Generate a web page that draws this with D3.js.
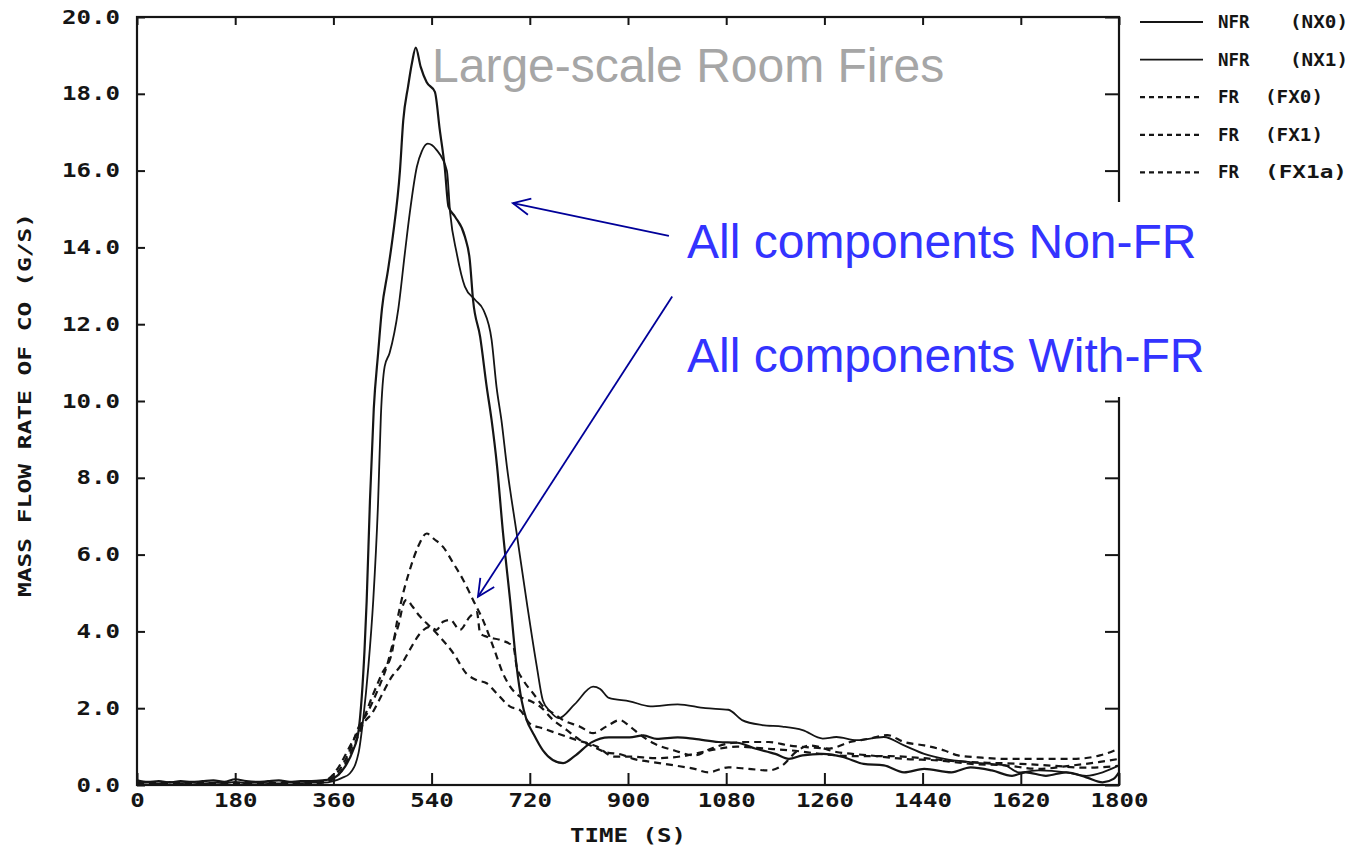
<!DOCTYPE html>
<html>
<head>
<meta charset="utf-8">
<script src="https://cdn.jsdelivr.net/npm/d3@7"></script>
<style>
  body { margin: 0; background: #fff; }
  svg { display: block; }
</style>
</head>
<body>
<script>
// ---- data (time in s, mass flow rate of CO in g/s) ----
const xTicks = [0, 180, 360, 540, 720, 900, 1080, 1260, 1440, 1620, 1800];
const yTicks = [0, 2, 4, 6, 8, 10, 12, 14, 16, 18, 20];

const seriesGroup = ["NFR", "NFR", "FR", "FR", "FR"];
const seriesCode = ["(NX0)", "(NX1)", "(FX0)", "(FX1)", "(FX1a)"];

const nx0 = [[0,0.12],[20,0.08],[40,0.1],[60,0.06],[80,0.1],[100,0.08],[120,0.1],[140,0.12],[160,0.08],[180,0.15],[200,0.1],[220,0.08],[240,0.1],[260,0.12],[280,0.08],[300,0.1],[320,0.1],[340,0.12],[355,0.15],[368,0.25],[381,0.47],[396,0.9],[406,1.4],[412,2.3],[417,3.5],[421,4.8],[427,7.4],[434,9.8],[442,11.25],[449,12.4],[460,13.4],[469,14.3],[482,16.0],[488,17.3],[497,18.2],[504,18.8],[511,19.2],[520,18.7],[531,18.3],[546,18.05],[555,17.06],[564,16.1],[571,15.06],[583,14.8],[601,14.28],[610,13.67],[616,12.63],[629,11.67],[641,10.37],[650,9.5],[660,8.3],[671,6.55],[684,4.8],[696,3.07],[705,2.2],[714,1.7],[726,1.35],[744,0.9],[762,0.65],[781,0.57],[802,0.75],[833,1.11],[865,1.24],[903,1.24],[928,1.29],[953,1.2],[991,1.24],[1022,1.2],[1066,1.12],[1100,1.1],[1133,0.95],[1170,0.81],[1195,0.68],[1220,0.77],[1257,0.81],[1294,0.73],[1332,0.55],[1369,0.51],[1406,0.33],[1443,0.42],[1493,0.33],[1528,0.46],[1567,0.38],[1604,0.24],[1629,0.33],[1666,0.24],[1703,0.33],[1740,0.2],[1770,0.07],[1790,0.16],[1800,0.33]];

const nx1 = [[0,0.05],[20,0.06],[40,0.04],[60,0.08],[80,0.05],[100,0.06],[120,0.04],[140,0.06],[160,0.05],[180,0.08],[200,0.05],[220,0.06],[240,0.05],[260,0.04],[280,0.06],[300,0.05],[320,0.06],[340,0.06],[360,0.1],[375,0.18],[390,0.3],[406,0.83],[415,1.77],[424,3.07],[433,4.8],[442,7.4],[447,9.6],[454,10.9],[463,11.25],[479,12.4],[491,13.85],[500,14.9],[513,16.1],[522,16.5],[533,16.7],[549,16.54],[568,16.0],[574,14.9],[586,13.85],[601,12.98],[620,12.63],[635,12.37],[650,11.59],[659,10.37],[668,9.5],[678,8.3],[696,6.55],[714,4.8],[733,3.07],[744,2.2],[757,1.92],[773,1.74],[802,2.1],[836,2.56],[849,2.5],[865,2.27],[903,2.18],[941,2.05],[991,2.1],[1042,2.0],[1084,1.96],[1109,1.69],[1146,1.56],[1183,1.52],[1220,1.43],[1257,1.21],[1282,1.25],[1319,1.17],[1369,1.25],[1406,1.03],[1443,0.81],[1480,0.68],[1529,0.59],[1591,0.51],[1616,0.33],[1653,0.38],[1703,0.33],[1740,0.24],[1770,0.33],[1800,0.51]];

const fx0 = [[0,0.04],[30,0.06],[60,0.03],[90,0.05],[120,0.04],[150,0.06],[180,0.04],[210,0.05],[240,0.06],[270,0.04],[300,0.05],[330,0.06],[350,0.15],[366,0.39],[390,1.0],[412,1.6],[431,2.3],[449,2.9],[467,3.43],[476,4.21],[488,5.0],[500,5.6],[515,6.2],[531,6.55],[545,6.4],[561,6.2],[580,5.77],[598,5.34],[616,4.82],[634,4.3],[653,3.6],[671,2.9],[684,2.56],[702,2.3],[724,2.17],[739,2.04],[763,1.69],[788,1.43],[812,1.17],[836,1.0],[860,0.85],[886,0.8],[910,0.68],[948,0.59],[985,0.51],[1022,0.42],[1047,0.33],[1084,0.46],[1121,0.42],[1158,0.38],[1183,0.51],[1208,0.86],[1233,1.03],[1282,0.86],[1344,0.77],[1406,0.68],[1468,0.64],[1529,0.55],[1591,0.51],[1653,0.42],[1715,0.51],[1765,0.6],[1800,0.68]];

const fx1 = [[0,0.05],[30,0.03],[60,0.05],[90,0.06],[120,0.04],[150,0.05],[180,0.03],[210,0.05],[240,0.04],[270,0.06],[300,0.04],[330,0.05],[350,0.12],[366,0.3],[390,0.9],[406,1.5],[423,1.9],[433,2.2],[445,2.6],[458,3.1],[471,3.8],[480,4.2],[488,4.7],[494,4.82],[505,4.65],[518,4.4],[531,4.21],[555,3.86],[580,3.43],[604,2.9],[623,2.73],[641,2.65],[659,2.39],[684,2.04],[702,1.95],[720,1.6],[745,1.47],[769,1.35],[806,1.17],[843,1.0],[874,0.74],[904,0.74],[950,0.7],[1000,0.75],[1050,0.9],[1100,1.0],[1150,0.95],[1200,0.9],[1260,0.8],[1320,0.75],[1380,0.75],[1440,0.7],[1500,0.62],[1560,0.58],[1620,0.55],[1680,0.5],[1740,0.45],[1800,0.5]];

const fx1a = [[0,0.06],[30,0.05],[60,0.04],[90,0.05],[120,0.06],[150,0.04],[180,0.05],[210,0.06],[240,0.05],[270,0.04],[300,0.06],[330,0.05],[350,0.1],[365,0.2],[380,0.5],[400,1.1],[415,1.6],[431,1.87],[449,2.35],[467,2.82],[482,3.08],[500,3.52],[519,3.95],[537,4.12],[549,4.04],[561,4.25],[574,4.3],[592,4.04],[610,4.38],[623,4.5],[629,3.95],[641,3.86],[665,3.78],[690,3.6],[696,3.08],[708,2.73],[726,2.39],[745,2.04],[763,1.87],[781,1.69],[812,1.52],[836,1.35],[860,1.52],[885,1.69],[904,1.52],[923,1.3],[948,1.08],[985,0.9],[1022,0.77],[1053,0.95],[1084,1.08],[1121,1.12],[1158,1.12],[1195,1.03],[1233,0.98],[1269,0.95],[1307,1.12],[1344,1.21],[1375,1.3],[1406,1.12],[1443,1.03],[1480,0.9],[1505,0.77],[1542,0.72],[1592,0.68],[1653,0.68],[1715,0.68],[1765,0.77],[1800,0.95]];

const seriesData = [nx0, nx1, fx0, fx1, fx1a];

// ---- layout ----
const W = 1352, H = 848;
const margin = { top: 17, right: 233, bottom: 63, left: 137 };
const ink = "#151515";
const mono = "'DejaVu Sans Mono', 'Liberation Mono', monospace";
const sans = "'Liberation Sans', Arial, sans-serif";

const lineStyle = [
  { width: 2.2, dash: null },
  { width: 1.8, dash: null },
  { width: 2.2, dash: "7,5" },
  { width: 2.2, dash: "7,5" },
  { width: 2.2, dash: "7,5" }
];

const x = d3.scaleLinear().domain([0, 1800]).range([margin.left, W - margin.right]);
const y = d3.scaleLinear().domain([0, 20]).range([H - margin.bottom, margin.top]);

const svg = d3.select("body").append("svg")
  .attr("width", W)
  .attr("height", H);

// curves
const line = d3.line()
  .x(d => x(d[0]))
  .y(d => y(d[1]))
  .curve(d3.curveMonotoneX);

svg.append("g")
  .selectAll("path")
  .data(seriesData)
  .join("path")
  .attr("d", line)
  .attr("fill", "none")
  .attr("stroke", ink)
  .attr("stroke-width", (d, i) => lineStyle[i].width)
  .attr("stroke-dasharray", (d, i) => lineStyle[i].dash)
  .attr("stroke-linejoin", "round");

// axes (ticks point inward, like the plotter frame)
function styleTicks(g, withText) {
  g.select(".domain").remove();
  g.selectAll("line").attr("stroke", ink).attr("stroke-width", 2);
  if (withText) {
    g.selectAll("text")
      .attr("font-family", mono)
      .attr("font-weight", "bold")
      .attr("font-size", 19)
      .attr("fill", ink)
      .attr("textLength", function () { return this.textContent.length * 14.5; })
      .attr("lengthAdjust", "spacingAndGlyphs");
  } else {
    g.selectAll("text").remove();
  }
}

svg.append("g")
  .attr("transform", `translate(0,${y(0)})`)
  .call(d3.axisBottom(x).tickValues(xTicks).tickSize(-12).tickPadding(9).tickFormat(d3.format("d")))
  .call(g => styleTicks(g, true));

svg.append("g")
  .attr("transform", `translate(0,${y(20)})`)
  .call(d3.axisTop(x).tickValues(xTicks).tickSize(-8))
  .call(g => styleTicks(g, false));

svg.append("g")
  .attr("transform", `translate(${x(0)},0)`)
  .call(d3.axisLeft(y).tickValues(yTicks).tickSize(-8).tickPadding(17).tickFormat(d3.format(".1f")))
  .call(g => styleTicks(g, true));

svg.append("g")
  .attr("transform", `translate(${x(1800)},0)`)
  .call(d3.axisRight(y).tickValues(yTicks).tickSize(-14))
  .call(g => styleTicks(g, false));

// frame
svg.append("rect")
  .attr("x", x(0))
  .attr("y", y(20))
  .attr("width", x(1800) - x(0))
  .attr("height", y(0) - y(20))
  .attr("fill", "none")
  .attr("stroke", ink)
  .attr("stroke-width", 2.2);

// axis titles
svg.append("text")
  .attr("x", (x(0) + x(1800)) / 2)
  .attr("y", 842)
  .attr("text-anchor", "middle")
  .attr("font-family", mono)
  .attr("font-weight", "bold")
  .attr("font-size", 20)
  .attr("fill", ink)
  .attr("textLength", 116)
  .attr("lengthAdjust", "spacingAndGlyphs")
  .text("TIME (S)");

svg.append("text")
  .attr("transform", `translate(31,${(y(0) + y(20)) / 2 + 4}) rotate(-90)`)
  .attr("text-anchor", "middle")
  .attr("font-family", mono)
  .attr("font-weight", "bold")
  .attr("font-size", 18)
  .attr("fill", ink)
  .attr("textLength", 384)
  .attr("lengthAdjust", "spacingAndGlyphs")
  .text("MASS FLOW RATE OF CO (G/S)");

// legend
const legend = svg.append("g")
  .selectAll("g")
  .data(seriesCode)
  .join("g")
  .attr("transform", (d, i) => `translate(0,${22 + i * 37.6})`);

legend.append("line")
  .attr("x1", 1140).attr("x2", 1203)
  .attr("stroke", ink)
  .attr("stroke-width", (d, i) => lineStyle[i].width)
  .attr("stroke-dasharray", (d, i) => lineStyle[i].dash ? "5,4" : null);

legend.append("text")
  .attr("x", 1218)
  .attr("y", 6)
  .attr("font-family", mono)
  .attr("font-weight", "bold")
  .attr("font-size", 17)
  .attr("fill", ink)
  .attr("textLength", (d, i) => seriesGroup[i].length * 10.5)
  .attr("lengthAdjust", "spacingAndGlyphs")
  .text((d, i) => seriesGroup[i]);

legend.append("text")
  .attr("x", (d, i) => seriesGroup[i] === "NFR" ? 1290 : 1265)
  .attr("y", 6)
  .attr("font-family", mono)
  .attr("font-weight", "bold")
  .attr("font-size", 17)
  .attr("fill", ink)
  .attr("textLength", d => d.length === 6 ? 82 : 58)
  .attr("lengthAdjust", "spacingAndGlyphs")
  .text(d => d);

// annotation box hides part of the right frame
svg.append("rect")
  .attr("x", 680).attr("y", 202)
  .attr("width", 536).attr("height", 195)
  .attr("fill", "#fff");

const blue = "#3333ff";
const navy = "#000099";

svg.append("text")
  .attr("x", 687).attr("y", 258)
  .attr("font-family", sans).attr("font-size", 48).attr("fill", blue)
  .text("All components Non-FR");

svg.append("text")
  .attr("x", 687).attr("y", 372)
  .attr("font-family", sans).attr("font-size", 48).attr("fill", blue)
  .text("All components With-FR");

svg.append("text")
  .attr("x", 432).attr("y", 82)
  .attr("font-family", sans).attr("font-size", 48).attr("fill", "#a6a6a6")
  .text("Large-scale Room Fires");

// arrows (anchored in data units)
const arrows = [
  { from: [975, 14.3], to: [689, 15.15] },
  { from: [981, 12.72], to: [625, 4.9] }
];

arrows.forEach(a => {
  const x1 = x(a.from[0]), y1 = y(a.from[1]);
  const x2 = x(a.to[0]), y2 = y(a.to[1]);
  const ang = Math.atan2(y1 - y2, x1 - x2);
  const len = 19, spread = 0.45;
  const g = svg.append("g").attr("stroke", navy).attr("stroke-width", 1.8).attr("fill", "none");
  g.append("line").attr("x1", x1).attr("y1", y1).attr("x2", x2).attr("y2", y2);
  g.append("path")
    .attr("d", `M${x2 + len * Math.cos(ang + spread)},${y2 + len * Math.sin(ang + spread)}L${x2},${y2}L${x2 + len * Math.cos(ang - spread)},${y2 + len * Math.sin(ang - spread)}`);
});
</script>
</body>
</html>
